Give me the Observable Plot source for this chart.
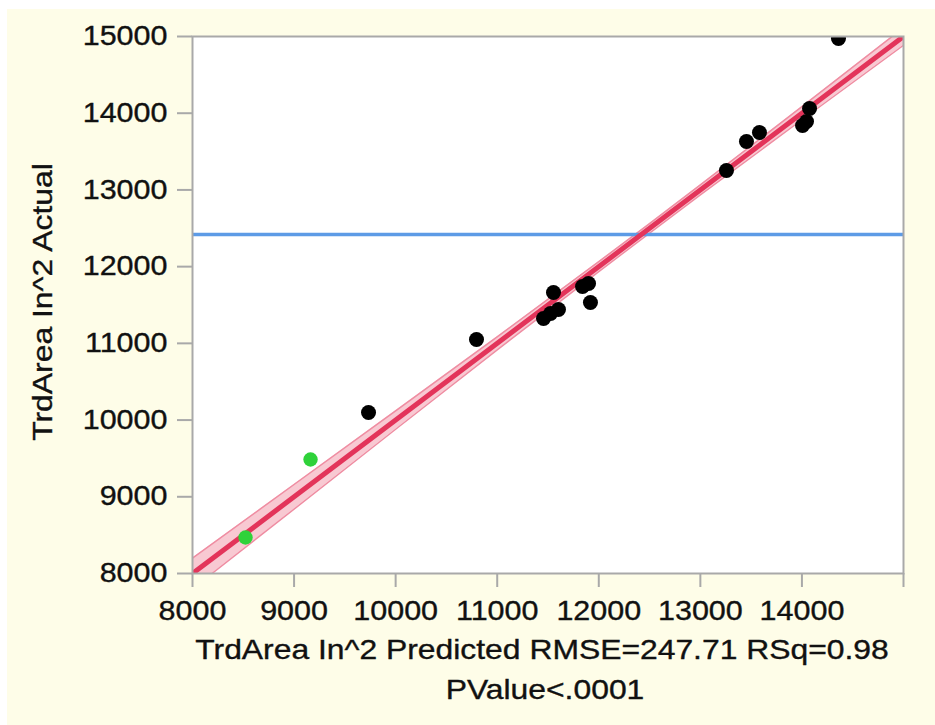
<!DOCTYPE html>
<html><head><meta charset="utf-8">
<script src="https://cdn.jsdelivr.net/npm/d3@7"></script>
<script src="https://cdn.jsdelivr.net/npm/@observablehq/plot@0.6"></script>
<style>
html,body{margin:0;padding:0;background:#fff;}
#chart{position:absolute;left:7px;top:9px;width:928px;height:716px;background:#fefde8;}
#chart svg{display:block;}
</style></head><body><div id="chart"></div>
<script>
// Points: predicted (x) vs actual (y)
const predicted = [14360, 14075, 14045, 14006, 13582, 13454, 13257, 11918, 11899, 11840, 11554, 11603, 11525, 11456, 10796, 9733, 9162, 8522];
const actual    = [14974, 14062, 13892, 13840, 13749, 13632, 13254, 11533, 11780, 11741, 11663, 11442, 11389, 11324, 11050, 10099, 9486, 8469];
const group     = ["k","k","k","k","k","k","k","k","k","k","k","k","k","k","k","k","g","g"];
const meanActual = 12420;
const fitX = [8000, 15000];
const fitY = [8000, 15000];
const bandX  = [8000, 9000, 10000, 11000, 12000, 12500, 13000, 14000, 15000];
const bandLo = [7800, 8840, 9880, 10915, 11935, 12438, 12935, 13915, 14885];
const bandHi = [8200, 9160, 10120, 11085, 12065, 12562, 13065, 14085, 15115];
const xTicks = [8000, 9000, 10000, 11000, 12000, 13000, 14000, 15000];
const xTickLabels = ["8000", "9000", "10000", "11000", "12000", "13000", "14000", ""];
const yTicks = [8000, 9000, 10000, 11000, 12000, 13000, 14000, 15000];
const yTickLabels = ["8000", "9000", "10000", "11000", "12000", "13000", "14000", "15000"];
const xTitle = "TrdArea In^2 Predicted RMSE=247.71 RSq=0.98";
const xSubtitle = "PValue<.0001";
const yTitle = "TrdArea In^2 Actual";

const pts = predicted.map((p, i) => ({x: p, y: actual[i], g: group[i]}));
const band = bandX.map((x, i) => ({x, lo: bandLo[i], hi: bandHi[i]}));
const fit = fitX.map((x, i) => ({x, y: fitY[i]}));

const axisCol = "#a9a9a9";
const plot = Plot.plot({
  width: 928, height: 716,
  marginLeft: 185, marginTop: 27, marginRight: 32, marginBottom: 152,
  style: {background: "transparent", fontFamily: "'Liberation Sans', Arial, sans-serif", fontSize: "27px", color: "#111", overflow: "visible"},
  x: {domain: [8000, 15000]},
  y: {domain: [8000, 15000]},
  marks: [
    Plot.frame({fill: "white"}),
    Plot.areaY(band, {x: "x", y1: "lo", y2: "hi", fill: "#f8c9d2", clip: "frame"}),
    Plot.lineY(band, {x: "x", y: "lo", stroke: "#ef8da2", strokeWidth: 1.5, clip: "frame"}),
    Plot.lineY(band, {x: "x", y: "hi", stroke: "#ef8da2", strokeWidth: 1.5, clip: "frame"}),
    Plot.ruleY([meanActual], {stroke: "#5d9be6", strokeWidth: 3.5}),
    Plot.line(fit, {x: "x", y: "y", stroke: "#e3345a", strokeWidth: 5, clip: "frame"}),
    Plot.dot(pts.filter(d => d.g === "k"), {x: "x", y: "y", r: 7.5, fill: "#000", clip: "frame"}),
    Plot.dot(pts.filter(d => d.g === "g"), {x: "x", y: "y", r: 7.2, fill: "#2fd23a", clip: "frame"}),
    Plot.frame({stroke: axisCol, strokeWidth: 2}),
    Plot.axisX({ticks: xTicks, tickFormat: d => xTickLabels[xTicks.indexOf(d)], tickSize: 14, tickPadding: 13, stroke: axisCol, strokeWidth: 2, fill: "#111", label: null}),
    Plot.axisY({ticks: yTicks, tickFormat: d => yTickLabels[yTicks.indexOf(d)], tickSize: 15, tickPadding: 10, stroke: axisCol, strokeWidth: 2, fill: "#111", label: null}),
    Plot.text([xTitle], {frameAnchor: "bottom", lineAnchor: "bottom", dy: 85, dx: -6, fill: "#111", fontSize: 27, className: "ttl"}),
    Plot.text([xSubtitle], {frameAnchor: "bottom", lineAnchor: "bottom", dy: 125, dx: -3, fill: "#111", fontSize: 27, className: "ttl"}),
    Plot.text([yTitle], {frameAnchor: "left", textAnchor: "middle", lineAnchor: "bottom", rotate: -90, dx: -141, dy: -3, fill: "#111", fontSize: 27, className: "ttl"})
  ]
});
plot.querySelectorAll("text").forEach(t => {
  const isTitle = !!t.closest(".ttl");
  const SX = isTitle ? 1.18 : 1.13;
  let tr = t.getAttribute("transform") || "";
  const x = t.getAttribute("x");
  if (x != null && !isNaN(+x) && +x !== 0) { tr += ` translate(${x},0)`; t.removeAttribute("x"); }
  t.setAttribute("transform", tr + ` scale(${SX},1)`);
  t.setAttribute("stroke", "#111");
  t.setAttribute("stroke-width", "0.35");
});
document.getElementById("chart").appendChild(plot);
</script>
</body></html>
